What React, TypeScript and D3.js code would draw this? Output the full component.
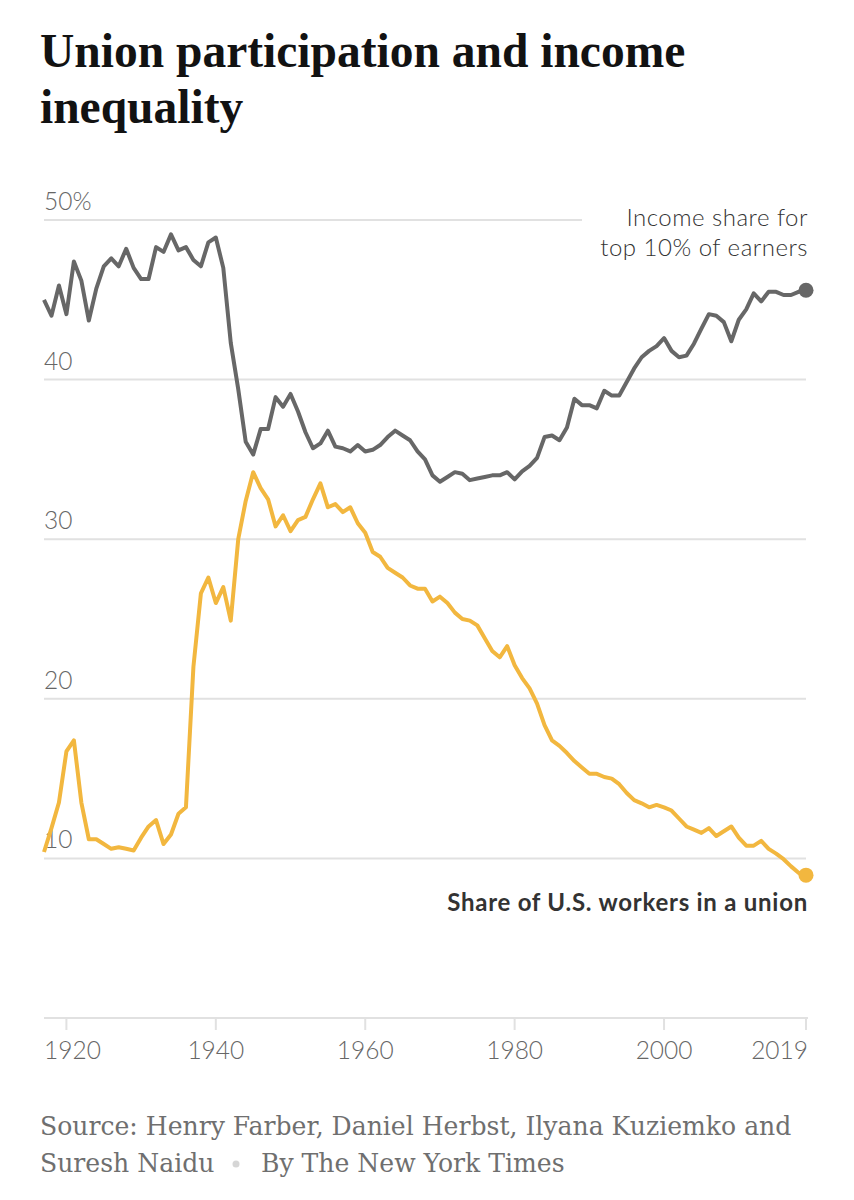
import React from "react";
import * as d3 from "d3";

// years on the x axis
const years: number[] = d3.range(1917, 2020);

// income share for top 10% of earners, 1917-2019
const topShare: number[] = [
  45.0, 44.0, 45.9,
  44.1, 47.4, 46.2, 43.7, 45.7, 47.1, 47.6, 47.1, 48.2, 47.0,
  46.3, 46.3, 48.3, 48.0, 49.1, 48.1, 48.3, 47.5, 47.1, 48.6,
  48.9, 47.0, 42.3, 39.4, 36.1, 35.3, 36.9, 36.9, 38.9, 38.3,
  39.1, 38.0, 36.7, 35.7, 36.0, 36.8, 35.8, 35.7, 35.5, 35.9,
  35.5, 35.6, 35.9, 36.4, 36.8, 36.5, 36.2, 35.5, 35.0, 34.0,
  33.6, 33.9, 34.2, 34.1, 33.7, 33.8, 33.9, 34.0, 34.0, 34.2,
  33.75, 34.25, 34.6, 35.1, 36.4, 36.5, 36.2, 37.0, 38.8, 38.4,
  38.4, 38.2, 39.3, 39.0, 39.0, 39.85, 40.7, 41.4, 41.8, 42.1,
  42.6, 41.8, 41.4, 41.5, 42.25, 43.2, 44.1, 44.0, 43.6, 42.4,
  43.75, 44.4, 45.4, 44.9, 45.5, 45.5, 45.3, 45.3, 45.5, 45.6,
];

// share of U.S. workers in a union, 1917-2019
const unionShare: number[] = [
  10.4, 11.9, 13.5,
  16.7, 17.4, 13.5, 11.2, 11.2, 10.9, 10.6, 10.7, 10.6, 10.5,
  11.3, 12.0, 12.4, 10.9, 11.5, 12.8, 13.2, 22.0, 26.6, 27.6,
  26.0, 27.0, 24.9, 30.0, 32.4, 34.2, 33.2, 32.5, 30.8, 31.5,
  30.5, 31.2, 31.4, 32.5, 33.5, 32.0, 32.2, 31.7, 32.0, 31.0,
  30.4, 29.2, 28.9, 28.2, 27.9, 27.6, 27.1, 26.9, 26.9, 26.1,
  26.4, 26.0, 25.4, 25.0, 24.9, 24.6, 23.8, 23.0, 22.6, 23.3,
  22.1, 21.3, 20.65, 19.7, 18.35, 17.4, 17.05, 16.6, 16.1, 15.7,
  15.3, 15.3, 15.1, 15.0, 14.65, 14.1, 13.65, 13.45, 13.2, 13.35,
  13.2, 13.0, 12.5, 12.0, 11.8, 11.6, 11.9, 11.4, 11.7, 12.0,
  11.3, 10.8, 10.8, 11.1, 10.6, 10.3, 9.95, 9.5, 9.1, 8.95,
];

const yTicks: number[] = [10, 20, 30, 40, 50];
const xTicks: number[] = [1920, 1940, 1960, 1980, 2000, 2019];

const W = 854;
const H = 1200;
const sans = "Lato, 'Noto Sans', sans-serif";
const serif = "'Liberation Serif', 'DejaVu Serif', serif";
const sourceFont = "'DejaVu Serif', serif";
const GRAY = "#676767";
const GOLD = "#F2B73F";
const GRID = "#e1e1e1";

const App: React.FC = () => {
  const x = d3.scaleLinear().domain([1917, 2019]).range([44, 806]);
  const y = d3.scaleLinear().domain([0, 50]).range([1018, 220]);

  const line = d3
    .line<number>()
    .x((_, i) => x(years[i]))
    .y((d) => y(d));

  const last = years.length - 1;

  return (
    <svg
      width={W}
      height={H}
      style={{ position: "absolute", left: 0, top: 0, background: "#fff" }}
    >
      {/* title */}
      <text x={40} y={67} fontFamily={serif} fontWeight={700} fontSize={47.5} fill="#121212">
        Union participation and income
      </text>
      <text x={40} y={123} fontFamily={serif} fontWeight={700} fontSize={47.5} fill="#121212">
        inequality
      </text>

      {/* grid lines and y labels */}
      {yTicks.map((t) => (
        <g key={t}>
          <line
            x1={x(1917)}
            x2={t === 50 ? 582 : x(2019)}
            y1={y(t)}
            y2={y(t)}
            stroke={GRID}
            strokeWidth={2}
          />
          <text
            x={44}
            y={y(t) - 10}
            fontFamily={sans}
            fontWeight={300}
            fontSize={24.5}
            fill="#666"
          >
            {t === 50 ? "50%" : t}
          </text>
        </g>
      ))}

      {/* x axis */}
      <line x1={x(1917)} x2={x(2019) + 2} y1={y(0)} y2={y(0)} stroke={GRID} strokeWidth={2} />
      {xTicks.map((t, i) => (
        <g key={t}>
          <line x1={x(t)} x2={x(t)} y1={y(0)} y2={y(0) + 12} stroke={GRID} strokeWidth={2} />
          <text
            x={i === 0 ? 44 : i === xTicks.length - 1 ? x(t) + 2 : x(t)}
            y={1059}
            textAnchor={i === 0 ? "start" : i === xTicks.length - 1 ? "end" : "middle"}
            fontFamily={sans}
            fontWeight={300}
            fontSize={24.5}
            fill="#666"
          >
            {t}
          </text>
        </g>
      ))}

      {/* lines */}
      <path
        d={line(topShare) || ""}
        fill="none"
        stroke={GRAY}
        strokeWidth={4}
        strokeLinejoin="round"
      />
      <path
        d={line(unionShare) || ""}
        fill="none"
        stroke={GOLD}
        strokeWidth={4}
        strokeLinejoin="round"
      />
      <circle cx={x(years[last])} cy={y(topShare[last])} r={7.5} fill={GRAY} />
      <circle cx={x(years[last])} cy={y(unionShare[last])} r={7.5} fill={GOLD} />

      {/* annotations */}
      <text x={808} y={226} textAnchor="end" fontFamily={sans} fontWeight={300} fontSize={24} letterSpacing={0.5} fill="#333">
        Income share for
      </text>
      <text x={808} y={256} textAnchor="end" fontFamily={sans} fontWeight={300} fontSize={24} letterSpacing={0.5} fill="#333">
        top 10% of earners
      </text>
      <text x={808} y={911} textAnchor="end" fontFamily={sans} fontWeight={700} fontSize={24} letterSpacing={0.75} fill="#333">
        Share of U.S. workers in a union
      </text>

      {/* source */}
      <text x={40} y={1135} fontFamily={sourceFont} fontSize={25.1} fill="#6f6f6f">
        Source: Henry Farber, Daniel Herbst, Ilyana Kuziemko and
      </text>
      <text x={40} y={1172} fontFamily={sourceFont} fontSize={25.1} fill="#6f6f6f">
        Suresh Naidu
      </text>
      <circle cx={236} cy={1164} r={3.5} fill="#d6d6d6" />
      <text x={261} y={1172} fontFamily={sourceFont} fontSize={25.1} fill="#6f6f6f">
        By The New York Times
      </text>
    </svg>
  );
};

export default App;
